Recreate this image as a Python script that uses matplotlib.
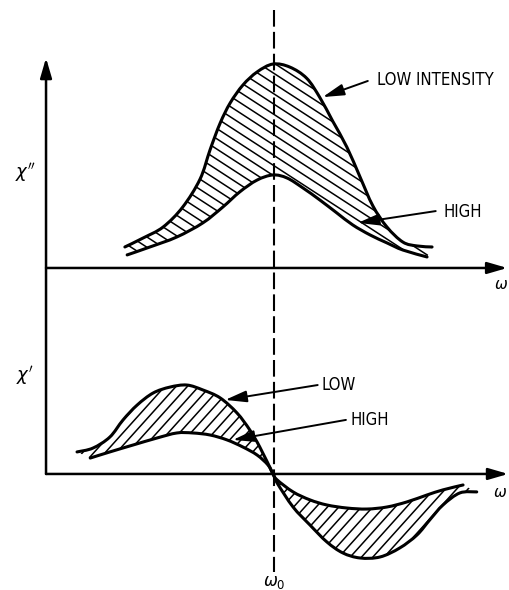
import numpy as np
import matplotlib
matplotlib.use("Agg")
import matplotlib.pyplot as plt
from matplotlib.patches import PathPatch
from matplotlib.path import Path
from matplotlib.collections import LineCollection

plt.rcParams["font.family"] = ["DejaVu Sans"]
plt.rcParams["mathtext.fontset"] = "dejavusans"

# Absorptive part chi'' (upper trace) at low and high intensity
w_abs_low = [1.73, 2.13, 2.57, 3.00, 3.38, 3.60, 3.82, 4.04, 4.32, 4.63, 4.98,
             5.35, 5.72, 6.01, 6.29, 6.60, 6.89, 7.17, 7.48, 7.83, 8.14, 8.47]
chi2_low = [1.03, 1.47, 2.01, 2.99, 4.36, 5.80, 7.10, 8.09, 8.97, 9.61, 10.0,
            9.85, 9.30, 8.35, 7.20, 5.93, 4.46, 3.05, 2.01, 1.27, 1.08, 1.03]
w_abs_high = [1.78, 2.28, 2.87, 3.44, 3.88, 4.25, 4.63, 4.98, 5.29, 5.64, 6.01,
              6.38, 6.73, 7.11, 7.48, 7.83, 8.36]
chi2_high = [0.64, 1.03, 1.52, 2.21, 2.99, 3.73, 4.31, 4.56, 4.41, 3.92, 3.33,
             2.70, 2.11, 1.62, 1.23, 0.88, 0.54]

# Dispersive part chi' (lower trace) at low and high intensity
w_disp_low = [0.68, 1.03, 1.40, 1.69, 2.00, 2.35, 2.72, 3.09, 3.44, 3.82, 4.19,
              4.47, 4.69, 4.98, 5.07, 5.42, 5.79, 6.16, 6.51, 6.89, 7.33, 7.76,
              8.14, 8.42, 8.71, 9.08, 9.45]
chi1_low = [1.08, 1.27, 1.81, 2.65, 3.38, 3.97, 4.26, 4.36, 4.12, 3.73, 2.99,
            2.16, 1.32, 0.0, -0.44, -1.62, -2.50, -3.33, -3.87, -4.12, -4.07,
            -3.63, -2.99, -2.25, -1.52, -0.93, -0.88]
w_disp_high = [0.97, 1.40, 1.91, 2.43, 2.87, 3.22, 3.60, 3.97, 4.32, 4.63, 4.87,
               4.98, 5.07, 5.42, 5.79, 6.16, 6.60, 7.04, 7.48, 7.92, 8.36, 8.71,
               9.15]
chi1_high = [0.78, 1.08, 1.42, 1.76, 2.01, 2.01, 1.91, 1.67, 1.32, 0.93, 0.44,
             0.0, -0.29, -0.88, -1.27, -1.52, -1.67, -1.72, -1.62, -1.37, -1.03,
             -0.78, -0.54]

omega0 = 5.0
upper_base = 10.1   # vertical position of the chi'' baseline

fig = plt.figure(figsize=(5.1, 5.9), dpi=100)
ax = fig.add_axes([0, 0, 1, 1])
ax.set_xlim(-1.01, 10.18)
ax.set_ylim(-5.69, 23.24)
ax.axis("off")

LW_CURVE = 2.2
LW_AXIS = 1.8
LW_HATCH = 1.1


def spline_segments(x, y):
    """Catmull-Rom curve through the points, as cubic Bezier vertices/codes."""
    P = np.column_stack([x, y]).astype(float)
    ext = np.vstack([P[0], P, P[-1]])
    verts = [P[0]]
    codes = [Path.MOVETO]
    for i in range(len(P) - 1):
        p0, p1, p2, p3 = ext[i], ext[i + 1], ext[i + 2], ext[i + 3]
        verts += [p1 + (p2 - p0) / 6.0, p2 - (p3 - p1) / 6.0, p2]
        codes += [Path.CURVE4] * 3
    return verts, codes


def draw_curve(x, y):
    verts, codes = spline_segments(x, y)
    ax.add_patch(PathPatch(Path(verts, codes), facecolor="none",
                           edgecolor="black", lw=LW_CURVE,
                           capstyle="round", joinstyle="round"))


def hatch_between(xa, ya, xb, yb, angle, spacing):
    va, ca = spline_segments(xa, ya)
    vb, cb = spline_segments(xb[::-1], yb[::-1])
    cb = [Path.LINETO] + cb[1:]
    verts = va + vb + [va[0]]
    codes = ca + cb + [Path.CLOSEPOLY]
    region = PathPatch(Path(verts, codes), facecolor="none", edgecolor="none")
    ax.add_patch(region)
    T = ax.transData
    pix = T.transform(np.array(verts))
    th = np.radians(angle)
    d = np.array([np.cos(th), np.sin(th)])
    n = np.array([-np.sin(th), np.cos(th)])
    proj = pix @ n
    along = pix @ d
    segs = []
    for o in np.arange(proj.min() - spacing, proj.max() + spacing, spacing):
        p0 = n * o + d * (along.min() - 10)
        p1 = n * o + d * (along.max() + 10)
        segs.append(T.inverted().transform(np.array([p0, p1])))
    lc = LineCollection(segs, colors="black", linewidths=LW_HATCH)
    ax.add_collection(lc)
    lc.set_clip_path(region)


# Upper panel: chi''
ya_low = np.array(chi2_low) + upper_base
ya_high = np.array(chi2_high) + upper_base
hatch_between(np.array(w_abs_low), ya_low, np.array(w_abs_high), ya_high, -33, 8.6)
draw_curve(w_abs_low, ya_low)
draw_curve(w_abs_high, ya_high)

# Lower panel: chi'
hatch_between(np.array(w_disp_low), np.array(chi1_low),
              np.array(w_disp_high), np.array(chi1_high), 48, 8.4)
draw_curve(w_disp_low, chi1_low)
draw_curve(w_disp_high, chi1_high)

# Axes with arrowheads
arrow_axis = dict(arrowstyle="-|>,head_length=1.2,head_width=0.35", lw=LW_AXIS,
                  color="black", shrinkA=0, shrinkB=0)
ax.annotate("", xy=(0, 20.4), xytext=(0, 0), arrowprops=arrow_axis)
ax.annotate("", xy=(10.12, upper_base), xytext=(0, upper_base), arrowprops=arrow_axis)
ax.annotate("", xy=(10.14, 0), xytext=(0, 0), arrowprops=arrow_axis)

# Resonance frequency marker
ax.plot([omega0, omega0], [22.75, -4.8], color="black", lw=1.5,
        dashes=(8, 2.5))

# Axis labels
ax.text(-0.46, upper_base + 4.66, r"$\chi^{\prime\prime}$", fontsize=13,
        ha="center", va="center")
ax.text(-0.46, 4.85, r"$\chi^{\prime}$", fontsize=13, ha="center", va="center")
ax.text(10.14, upper_base - 0.8, r"$\omega$", fontsize=11, ha="right", va="center")
ax.text(10.12, -0.93, r"$\omega$", fontsize=11, ha="right", va="center")
ax.text(omega0, -5.3, r"$\omega_{0}$", fontsize=12, ha="center", va="center")

# Curve annotations
arrow_note = dict(arrowstyle="-|>,head_length=1.3,head_width=0.35", lw=1.4,
                  color="black", shrinkA=0, shrinkB=0)
notes = [
    ("LOW INTENSITY", (7.26, upper_base + 9.22), (7.06, upper_base + 9.17),
     (6.07, upper_base + 8.38)),
    ("HIGH", (8.71, upper_base + 2.75), (8.55, upper_base + 2.79),
     (6.84, upper_base + 2.21)),
    ("LOW", (6.05, 4.36), (5.96, 4.36), (3.93, 3.63)),
    ("HIGH", (6.67, 2.65), (6.58, 2.65), (4.10, 1.67)),
]
for label, text_xy, start_xy, tip_xy in notes:
    ax.text(*text_xy, label, fontsize=12, fontstretch="condensed",
            ha="left", va="center")
    ax.annotate("", xy=tip_xy, xytext=start_xy, arrowprops=arrow_note)

fig.savefig("out.png", dpi=100)
